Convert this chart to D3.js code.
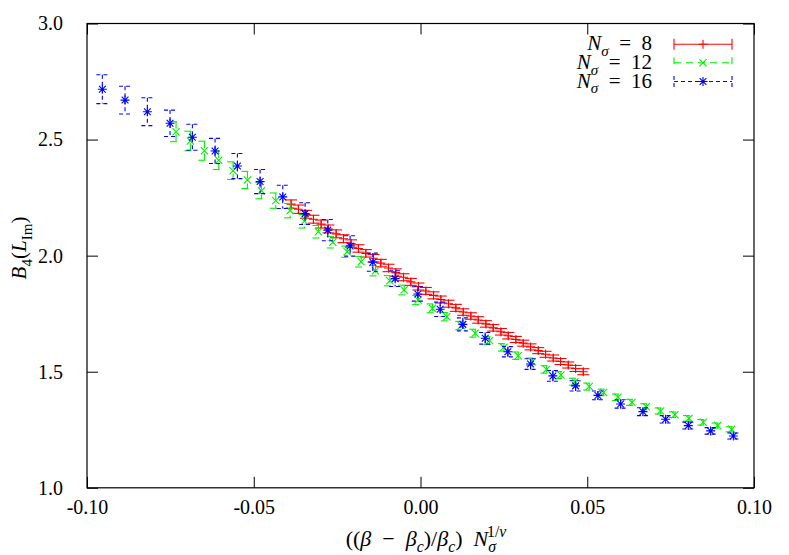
<!DOCTYPE html>
<html><head><meta charset="utf-8">
<script src="https://cdn.jsdelivr.net/npm/d3@7"></script>
<style>
body{margin:0;background:#fff}
svg{display:block}
text{font-family:"Liberation Serif","Times New Roman",serif;fill:#000}
</style>
</head><body>
<svg id="chart" width="789" height="555"></svg>
<script>
// ---------- data ----------
const xTicks = [-0.10, -0.05, 0.00, 0.05, 0.10];
const xTickLabels = ["-0.10", "-0.05", "0.00", "0.05", "0.10"];
const yTicks = [1.0, 1.5, 2.0, 2.5, 3.0];
const yTickLabels = ["1.0", "1.5", "2.0", "2.5", "3.0"];
const seriesNames = ["8", "12", "16"];

// N_sigma = 8 (red, +)
const n8X = [-0.0388,-0.0366,-0.0343,-0.0321,-0.0298,-0.0276,-0.0253,-0.0231,-0.0208,-0.0186,
             -0.0164,-0.0141,-0.0119,-0.0096,-0.0074,-0.0051,-0.0029,-0.0006,0.0016,0.0039,
             0.0061,0.0084,0.0106,0.0128,0.0151,0.0173,0.0196,0.0218,0.0241,0.0263,
             0.0286,0.0308,0.0330,0.0353,0.0375,0.0398,0.0420,0.0443,0.0465,0.0488];
const n8Y = [2.222,2.200,2.178,2.157,2.136,2.115,2.094,2.073,2.052,2.031,
             2.010,1.989,1.968,1.947,1.927,1.907,1.887,1.867,1.848,1.829,
             1.811,1.793,1.775,1.757,1.740,1.723,1.706,1.689,1.672,1.655,
             1.639,1.623,1.607,1.591,1.575,1.559,1.544,1.529,1.514,1.500];
const n8Err = [0.018,0.018,0.017,0.017,0.017,0.017,0.017,0.017,0.016,0.016,
               0.016,0.016,0.016,0.016,0.016,0.015,0.015,0.015,0.015,0.015,
               0.015,0.015,0.015,0.014,0.014,0.014,0.014,0.014,0.014,0.014,
               0.013,0.013,0.013,0.013,0.013,0.013,0.013,0.013,0.013,0.013];

// N_sigma = 12 (green, x)
const n12X = [-0.0733,-0.0690,-0.0648,-0.0605,-0.0562,-0.0519,-0.0477,-0.0434,-0.0391,-0.0348,
              -0.0306,-0.0263,-0.0220,-0.0178,-0.0135,-0.0092,-0.0049,-0.0007,0.0036,0.0079,
              0.0122,0.0164,0.0207,0.0250,0.0293,0.0335,0.0378,0.0421,0.0463,0.0506,
              0.0549,0.0592,0.0634,0.0677,0.0720,0.0763,0.0805,0.0848,0.0891,0.0933];
const n12Y = [2.534,2.494,2.452,2.411,2.366,2.326,2.280,2.237,2.194,2.148,
              2.103,2.058,2.017,1.974,1.935,1.892,1.852,1.809,1.773,1.737,
              1.699,1.666,1.634,1.605,1.569,1.543,1.510,1.486,1.457,1.436,
              1.411,1.390,1.368,1.349,1.331,1.315,1.299,1.282,1.268,1.252];
const n12Err = [0.043,0.042,0.041,0.040,0.038,0.037,0.035,0.033,0.031,0.029,
                0.027,0.025,0.024,0.023,0.022,0.022,0.021,0.020,0.019,0.018,
                0.018,0.017,0.017,0.016,0.016,0.016,0.016,0.015,0.015,0.015,
                0.014,0.014,0.013,0.013,0.013,0.012,0.012,0.012,0.011,0.011];

// N_sigma = 16 (blue, *)
const n16X = [-0.0954,-0.0886,-0.0819,-0.0751,-0.0684,-0.0616,-0.0549,-0.0481,-0.0413,-0.0346,
              -0.0278,-0.0211,-0.0143,-0.0076,-0.0008,0.0059,0.0127,0.0194,0.0262,0.0330,
              0.0397,0.0465,0.0532,0.0600,0.0667,0.0735,0.0803,0.0870,0.0938];
const n16Y = [2.717,2.670,2.620,2.570,2.510,2.451,2.386,2.319,2.253,2.181,
              2.110,2.042,1.972,1.901,1.835,1.769,1.704,1.644,1.586,1.533,
              1.482,1.439,1.398,1.361,1.328,1.295,1.268,1.245,1.223];
const n16Err = [0.062,0.060,0.060,0.057,0.056,0.054,0.054,0.052,0.050,0.047,
                0.046,0.044,0.039,0.034,0.031,0.031,0.028,0.025,0.022,0.023,
                0.023,0.022,0.019,0.018,0.017,0.016,0.015,0.014,0.013];

// ---------- layout ----------
const svg = d3.select("#chart");
const L = 87, R = 754, T = 23.5, B = 487.8;
const x = d3.scaleLinear().domain([-0.1, 0.1]).range([L, R]);
const y = d3.scaleLinear().domain([1, 3]).range([B, T]);
const FS = 20;

const series = [
  {name: seriesNames[0], xs: n8X, ys: n8Y, es: n8Err, color: "#ff0000", dash: null, marker: "plus"},
  {name: seriesNames[1], xs: n12X, ys: n12Y, es: n12Err, color: "#00f000", dash: "7,5", marker: "cross"},
  {name: seriesNames[2], xs: n16X, ys: n16Y, es: n16Err, color: "#0000ff", dash: "4,3", marker: "star"}
];

// ---------- axes ----------
const tickLen = 11;
const gx = svg.append("g").attr("transform", `translate(0,${B})`)
  .call(d3.axisBottom(x).tickValues(xTicks).tickSize(-tickLen).tickPadding(12)
        .tickFormat((d, i) => xTickLabels[i]));
const gxt = svg.append("g").attr("transform", `translate(0,${T})`)
  .call(d3.axisTop(x).tickValues(xTicks).tickSize(-tickLen).tickFormat(""));
const gy = svg.append("g").attr("transform", `translate(${L},0)`)
  .call(d3.axisLeft(y).tickValues(yTicks).tickSize(-tickLen).tickPadding(24)
        .tickFormat((d, i) => yTickLabels[i]));
const gyr = svg.append("g").attr("transform", `translate(${R},0)`)
  .call(d3.axisRight(y).tickValues(yTicks).tickSize(-tickLen).tickFormat(""));
[gx, gxt, gy, gyr].forEach(g => {
  g.select(".domain").remove();
  g.selectAll("line").attr("stroke", "#000").attr("stroke-width", 1);
  g.selectAll("text").style("font-size", FS + "px").attr("font-family", null).attr("fill", "#000");
});
svg.append("rect").attr("x", L).attr("y", T).attr("width", R - L).attr("height", B - T)
  .attr("fill", "none").attr("stroke", "#000").attr("stroke-width", 1.2);

// ---------- rich text helper ----------
function rich(sel, segs, size) {
  let cur = 0;
  segs.forEach(s => {
    const target = s.b === "sub" ? size * 0.28 : s.b === "sup" ? -size * 0.42 : 0;
    const t = sel.append("tspan").text(s.t).attr("dy", (target - cur).toFixed(2))
      .style("font-size", (s.b ? size * 0.72 : size) + "px");
    if (s.i) t.style("font-style", "italic");
    if (s.dx) t.attr("dx", s.dx);
    cur = target;
  });
}

// axis titles
const xl = svg.append("text").attr("x", 426).attr("y", 546).attr("text-anchor", "middle");
rich(xl, [
  {t: "(("}, {t: "β", i: 1}, {t: "\u2002−\u2002"}, {t: "β", i: 1}, {t: "c", i: 1, b: "sub"},
  {t: ")/"}, {t: "β", i: 1}, {t: "c", i: 1, b: "sub"}, {t: ")\u2002"}, {t: "N", i: 1},
  {t: "σ", i: 1, b: "sub"}, {t: "1/", b: "sup", dx: -9}, {t: "ν", i: 1, b: "sup"}
], 22);

const yl = svg.append("text").attr("transform", "translate(26,248) rotate(-90)").attr("text-anchor", "middle");
rich(yl, [
  {t: "B", i: 1}, {t: "4", b: "sub"}, {t: "("}, {t: "L", i: 1}, {t: "Im", b: "sub"}, {t: ")"}
], 21);

// ---------- marks ----------
const CAP = 6;
function markerPath(type, r) {
  const p = d3.path();
  if (type === "plus" || type === "star") {
    p.moveTo(-r, 0); p.lineTo(r, 0); p.moveTo(0, -r); p.lineTo(0, r);
  }
  if (type === "cross" || type === "star") {
    const q = type === "star" ? r * 0.75 : r * 0.8;
    p.moveTo(-q, -q); p.lineTo(q, q); p.moveTo(-q, q); p.lineTo(q, -q);
  }
  return p.toString();
}

series.forEach(s => {
  const data = s.xs.map((v, i) => ({x: v, y: s.ys[i], e: s.es[i]}));
  const g = svg.append("g").attr("stroke", s.color).attr("fill", "none").attr("stroke-width", 1.1);
  const pts = g.selectAll("g.pt").data(data).join("g").attr("class", "pt");
  const addLine = (sel, f) => sel.append("line")
    .attr("x1", d => f(d)[0]).attr("y1", d => f(d)[1])
    .attr("x2", d => f(d)[2]).attr("y2", d => f(d)[3])
    .attr("stroke-dasharray", s.dash);
  addLine(pts, d => [x(d.x), y(d.y + d.e), x(d.x), y(d.y - d.e)]);
  addLine(pts, d => [x(d.x) - CAP, y(d.y + d.e), x(d.x) + CAP, y(d.y + d.e)]);
  addLine(pts, d => [x(d.x) - CAP, y(d.y - d.e), x(d.x) + CAP, y(d.y - d.e)]);
  pts.append("path").attr("d", markerPath(s.marker, 4.5))
    .attr("transform", d => `translate(${x(d.x)},${y(d.y)})`);
});

// ---------- legend ----------
const legRows = [44.3, 62.7, 81.5];
const lx0 = 674, lx1 = 732, ltx = 652;
series.forEach((s, i) => {
  const yy = legRows[i];
  const g = svg.append("g").attr("stroke", s.color).attr("fill", "none").attr("stroke-width", 1.1);
  g.append("line").attr("x1", lx0).attr("x2", lx1).attr("y1", yy).attr("y2", yy).attr("stroke-dasharray", s.dash);
  g.append("line").attr("x1", lx0).attr("x2", lx0).attr("y1", yy - 5.5).attr("y2", yy + 5.5).attr("stroke-dasharray", s.dash);
  g.append("line").attr("x1", lx1).attr("x2", lx1).attr("y1", yy - 5.5).attr("y2", yy + 5.5).attr("stroke-dasharray", s.dash);
  g.append("path").attr("d", markerPath(s.marker, 4.5)).attr("transform", `translate(${(lx0 + lx1) / 2},${yy})`);
  const t = svg.append("text").attr("x", ltx).attr("y", yy + 6).attr("text-anchor", "end");
  rich(t, [{t: "N", i: 1}, {t: "σ", i: 1, b: "sub"}, {t: "\u2002=\u2002" + s.name}], 21);
});
</script>
</body></html>
